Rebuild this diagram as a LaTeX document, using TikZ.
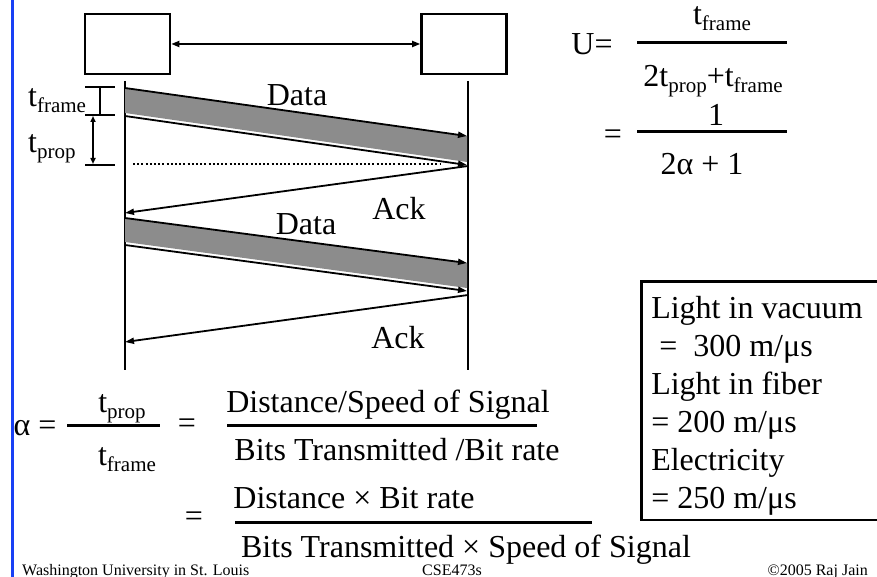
\documentclass[tikz,border=0pt]{standalone}
\usepackage{fontspec}
\setmainfont{Liberation Serif}
\usetikzlibrary{arrows.meta,positioning}
\definecolor{slideblue}{RGB}{24,64,245}
\newcommand{\tsub}[1]{t\raisebox{-6pt}{\fontsize{21}{21}\selectfont #1}}

\begin{document}
\begin{tikzpicture}[x=1pt,y=-1pt,
  font=\fontsize{32}{38}\selectfont,
  host/.style={draw,line width=2.6pt,minimum width=85pt,minimum height=60pt,inner sep=0pt},
  lifeline/.style={line width=2pt},
  msg/.style={line width=1.8pt,-{Triangle[length=9pt,width=6pt]}},
  band/.style={fill=black!45,draw=none},
  lbl/.style={anchor=base,inner sep=0pt},
  fracbar/.style={line width=3pt},
  tick/.style={line width=2pt},
  foot/.style={anchor=base,inner sep=0pt,font=\fontsize{16}{16}\selectfont},
  >={Triangle[length=8pt,width=6pt]}
]
\useasboundingbox (0,0) rectangle (877,577);
\draw[slideblue,line width=3pt] (12,0) -- (12,577);

% hosts and time lines
\node[host] (hostA) at (127.5,44) {};
\node[host] (hostB) at (464,44) {};
\draw[<->,line width=1.8pt] (hostA) -- (hostB);

\coordinate (a0) at (125,81);  \coordinate (a1) at (125,370);
\coordinate (b0) at (468,81);  \coordinate (b1) at (468,370);
\draw[lifeline] (a0) -- (a1);
\draw[lifeline] (b0) -- (b1);

% first frame
\coordinate (d1a) at (125,88);  \coordinate (d1b) at (467,136);
\coordinate (d1c) at (125,116); \coordinate (d1d) at (467,165);
\fill[band] (d1a) -- (d1b) -- ([yshift=3pt]d1d) -- ([yshift=3pt]d1c) -- cycle;
\draw[msg] (d1a) -- (d1b);
\draw[msg] (d1c) -- (d1d);
\node[lbl] (data1) at (297,106) {Data};

\coordinate (dotA) at (133,164); \coordinate (dotB) at (440,164);
\draw[line width=1.6pt,dash pattern=on 2pt off 2.2pt] (dotA) -- (dotB);

\coordinate (k1a) at (468,166); \coordinate (k1b) at (125,213);
\draw[msg] (k1a) -- (k1b);
\node[lbl] (ack1) at (399,220) {Ack};

% second frame
\coordinate (d2a) at (125,218); \coordinate (d2b) at (467,263);
\coordinate (d2c) at (125,245); \coordinate (d2d) at (467,291);
\fill[band] (d2a) -- (d2b) -- ([yshift=3pt]d2d) -- ([yshift=3pt]d2c) -- cycle;
\draw[msg] (d2a) -- (d2b);
\draw[msg] (d2c) -- (d2d);
\node[lbl] (data2) at (306,235) {Data};

\coordinate (k2a) at (468,295); \coordinate (k2b) at (125,342);
\draw[msg] (k2a) -- (k2b);
\node[lbl] (ack2) at (398,348) {Ack};

% t_frame and t_prop marks
\draw[tick] (85,87) -- (115,87) (85,115) -- (115,115) (85,165) -- (115,165);
\draw[tick] (100,87) -- (100,115);
\coordinate (tpTop) at (93,116); \coordinate (tpBot) at (93,164);
\draw[tick,<->,>={Triangle[length=6pt,width=5pt]}] (tpTop) -- (tpBot);
\node[lbl,anchor=base west] (tframeL) at (28,107) {\tsub{frame}};
\node[lbl,anchor=base west] (tpropL) at (28,153) {\tsub{prop}};

% utilization
\node[lbl] (uLabel) at (592,55) {U=};
\draw[fracbar] (637,43) -- (787,43);
\node[lbl] (uNum) at (722,25) {\tsub{frame}};
\node[lbl] (uDen) at (713,87) {2\tsub{prop}+\tsub{frame}};
\node[lbl] (uEq) at (613,145) {=};
\draw[fracbar] (637,132) -- (787,132);
\node[lbl] (uOne) at (716,126) {1};
\node[lbl] (uAlpha) at (702,175) {2α + 1};

% speeds
\node[draw,line width=2.5pt,anchor=north west,align=left,
  inner xsep=10pt,inner ysep=5pt] (speeds) at (640,280)
  {\rule{0pt}{32pt}Light in vacuum\rule{7pt}{0pt}\\
   \ =\ \ 300 m/μs\\
   Light in fiber\\
   = 200 m/μs\\
   Electricity\\
   = 250 m/μs};

% alpha
\node[lbl] (aLabel) at (35,435) {α =};
\draw[fracbar] (67,425) -- (160,425);
\node[lbl] (aNum) at (122,412) {\tsub{prop}};
\node[lbl] (aDen) at (127,465) {\tsub{frame}};
\node[lbl] (aEq1) at (187,433) {=};
\draw[fracbar] (227,425) -- (537,425);
\node[lbl] (dNum) at (388,412) {Distance/Speed of Signal};
\node[lbl] (dDen) at (397,460) {Bits Transmitted /Bit rate};
\node[lbl] (aEq2) at (194,526) {=};
\node[lbl] (bNum) at (354,508) {Distance × Bit rate};
\draw[fracbar] (235,522) -- (592,522);
\node[lbl] (bDen) at (466,557) {Bits Transmitted × Speed of Signal};

% footer
\node[foot,anchor=base west] (uni) at (22,575) {Washington University in St. Louis};
\node[foot] (course) at (452,575) {CSE473s};
\node[foot,anchor=base east] (copy) at (868,575) {©2005 Raj Jain};
\end{tikzpicture}
\end{document}
